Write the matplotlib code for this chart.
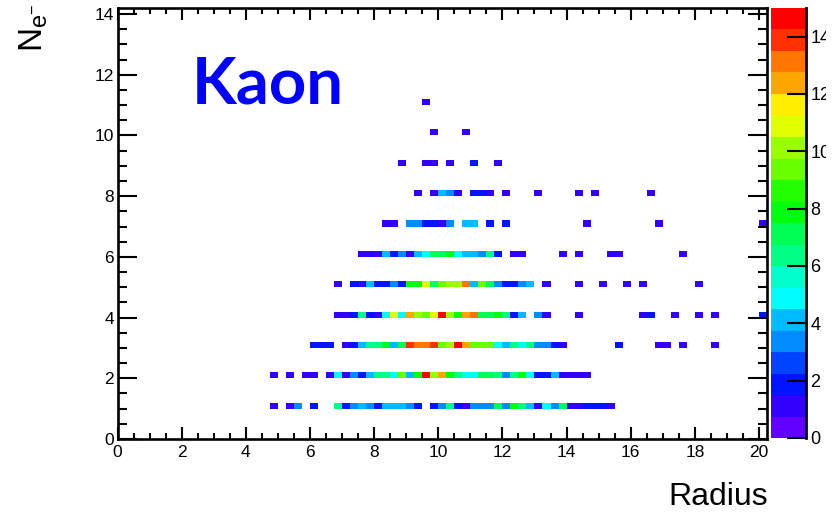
import colorsys
import numpy as np
import matplotlib
matplotlib.use("Agg")
import matplotlib.pyplot as plt
from matplotlib.colors import ListedColormap, BoundaryNorm
from matplotlib.ticker import MultipleLocator
from matplotlib.patches import Rectangle

# ---------------- data ----------------
# number of electrons (rows) and, per row, the radius of the first bin
# followed by the counts of consecutive radius bins (bin width 0.25)
ne_values = [1, 2, 3, 4, 5, 6, 7, 8, 9, 10, 11]
row_start_radius = [4.75, 4.75, 6.0, 6.75, 6.75, 7.5, 8.25, 9.25, 8.75, 9.75, 9.5]

counts_ne1 = [1, 0, 1, 3, 0, 2, 0, 0, 6, 2, 3, 4, 3, 2, 4, 4, 4, 3, 2, 0, 2, 3, 6, 2, 1,
              3, 3, 3, 7, 3, 8, 6, 4, 1, 5, 3, 7, 1, 1, 2, 2, 2, 1]
counts_ne2 = [1, 0, 1, 0, 1, 1, 0, 1, 5, 1, 3, 2, 4, 6, 6, 5, 9, 4, 8, 15, 10, 12, 8, 6, 5,
              5, 7, 7, 6, 3, 6, 8, 5, 2, 2, 4, 1, 1, 1, 1]
counts_ne3 = [2, 2, 2, 0, 1, 2, 4, 6, 6, 8, 4, 7, 14, 13, 13, 14, 9, 10, 15, 12, 9, 9, 9, 5, 4,
              6, 5, 6, 3, 3, 2, 1, 0, 0, 0, 0, 0, 0, 2, 0, 0, 0, 0, 1, 1, 0, 1, 0, 0, 0, 1]
counts_ne4 = [1, 1, 2, 6, 2, 1, 5, 11, 5, 12, 10, 9, 11, 15, 10, 8, 12, 13, 7, 7, 8, 6, 2, 4, 0,
              3, 1, 0, 0, 0, 1, 0, 0, 0, 0, 0, 0, 0, 1, 2, 0, 0, 1, 0, 0, 1, 0, 1, 0, 0,
              0, 0, 0, 2]
counts_ne5 = [1, 0, 2, 1, 4, 2, 2, 3, 2, 8, 8, 11, 7, 9, 10, 10, 13, 4, 9, 7, 3, 2, 2, 3, 4,
              0, 1, 0, 0, 0, 1, 0, 0, 1, 0, 0, 1, 0, 1, 0, 0, 0, 0, 0, 0, 1]
counts_ne6 = [1, 1, 1, 4, 2, 3, 1, 4, 5, 7, 7, 8, 5, 4, 4, 3, 6, 2, 0, 1, 1, 0, 0, 0, 0,
              1, 0, 1, 0, 0, 0, 1, 1, 0, 0, 0, 0, 0, 0, 0, 1]
counts_ne7 = [1, 1, 0, 3, 3, 2, 2, 1, 3, 0, 4, 4, 0, 2, 0, 2, 0, 0, 0, 0, 0, 0, 0, 0, 0,
              1, 0, 0, 0, 0, 0, 0, 0, 0, 1, 0, 0, 0, 0, 0, 0, 0, 0, 0, 0, 0, 0, 1]
counts_ne8 = [1, 0, 1, 4, 3, 1, 0, 2, 2, 1, 0, 1, 0, 0, 0, 1, 0, 0, 0, 0, 1, 0, 1, 0, 0,
              0, 0, 0, 0, 1]
counts_ne9 = [1, 0, 0, 1, 1, 0, 1, 0, 0, 2, 0, 0, 1]
counts_ne10 = [1, 0, 0, 0, 1]
counts_ne11 = [1]

row_counts = [counts_ne1, counts_ne2, counts_ne3, counts_ne4, counts_ne5, counts_ne6,
              counts_ne7, counts_ne8, counts_ne9, counts_ne10, counts_ne11]

x_ticks = [0, 2, 4, 6, 8, 10, 12, 14, 16, 18, 20]
y_ticks = [0, 2, 4, 6, 8, 10, 12, 14]
z_ticks = [0, 2, 4, 6, 8, 10, 12, 14]

# binning
x_min, x_max, x_bw = 0.0, 20.25, 0.25
y_min, y_max, y_bw = 0.0, 14.2, 0.2
z_max = 15.0
n_levels = 20

# ---------------- build histogram ----------------
xedges = np.linspace(x_min, x_max, int(round((x_max - x_min) / x_bw)) + 1)
yedges = np.linspace(y_min, y_max, int(round((y_max - y_min) / y_bw)) + 1)
xs, ys, ws = [], [], []
for ne, r0, cnts in zip(ne_values, row_start_radius, row_counts):
    for k, c in enumerate(cnts):
        if c > 0:
            xs.append(r0 + k * x_bw + x_bw / 2)
            ys.append(ne + y_bw / 2)
            ws.append(c)
H, _, _ = np.histogram2d(xs, ys, bins=[xedges, yedges], weights=ws)
H = np.ma.masked_equal(H.T, 0)

# ROOT "pretty" palette sampled with 20 contour levels
pal = []
for k in range(n_levels):
    ic = int((k + 0.99) * 50 / n_levels)
    hue = 280.0 - (ic + 1) * 280.0 / 50
    pal.append(colorsys.hls_to_rgb(hue / 360.0, 0.5, 1.0))
cmap = ListedColormap(pal)
norm = BoundaryNorm(np.linspace(0, z_max, n_levels + 1), n_levels, clip=True)

# ---------------- figure ----------------
W, Hh = 834, 512
fig = plt.figure(figsize=(W / 100, Hh / 100), dpi=100)
tfont = ['Liberation Sans Narrow', 'Liberation Sans', 'DejaVu Sans']
plt.rcParams['mathtext.default'] = 'regular'

ax = fig.add_axes([117.5 / W, (Hh - 439) / Hh, (767 - 117.5) / W, (439 - 8) / Hh])
mesh = ax.pcolormesh(xedges, yedges, H, cmap=cmap, norm=norm, shading='flat')
ax.set_xlim(x_min, x_max)
ax.set_ylim(y_min, y_max)
ax.set_xticks(x_ticks)
ax.set_yticks(y_ticks)
ax.xaxis.set_minor_locator(MultipleLocator(0.5))
ax.yaxis.set_minor_locator(MultipleLocator(0.5))
for s in ax.spines.values():
    s.set_linewidth(1.9)
ax.tick_params(axis='x', which='major', direction='in', length=8.6, width=1.5,
               top=True, bottom=True, pad=4.5)
ax.tick_params(axis='x', which='minor', direction='in', length=4.3, width=1.5,
               top=True, bottom=True)
ax.tick_params(axis='y', which='major', direction='in', length=13.5, width=1.5,
               left=True, right=True, pad=2.5)
ax.tick_params(axis='y', which='minor', direction='in', length=6.7, width=1.5,
               left=True, right=True)
for lab in ax.get_xticklabels() + ax.get_yticklabels():
    lab.set_fontfamily(tfont)
    lab.set_fontsize(12.5)

# colour bar
cax = fig.add_axes([771 / W, (Hh - 438) / Hh, (806 - 771) / W, (438 - 8) / Hh])
cb = fig.colorbar(mesh, cax=cax, ticks=z_ticks)
cb.outline.set_visible(False)
cax.plot([1, 1], [0, 1], transform=cax.transAxes, color='k', lw=2.0, clip_on=False)
cax.tick_params(axis='y', which='major', direction='in', length=13.5, width=1.5,
                right=True, left=False, pad=3)
cax.minorticks_off()
for lab in cax.get_yticklabels():
    lab.set_fontfamily(tfont)
    lab.set_fontsize(13)

# texts
fig.text(768 / W, 1 - 505 / Hh, 'Radius', ha='right', va='baseline',
         fontsize=23, family=tfont)
fig.text(50 / W, 1 - 4 / Hh, r'$N_{e^{-}}$', rotation=90, ha='right', va='top',
         fontsize=24, family=tfont)
fig.text(192 / W, 1 - 104 / Hh, 'Kaon', ha='left', va='baseline', fontsize=47,
         fontweight='bold', family=['Lato', 'DejaVu Sans'], color='#0000ff')

# the reference picture is cropped just right of the colour-bar labels
fig.patches.append(Rectangle((826 / W, 0), (W - 826) / W, 1, transform=fig.transFigure,
                             facecolor='white', edgecolor='none', zorder=10))

fig.savefig('out.png', dpi=100)
